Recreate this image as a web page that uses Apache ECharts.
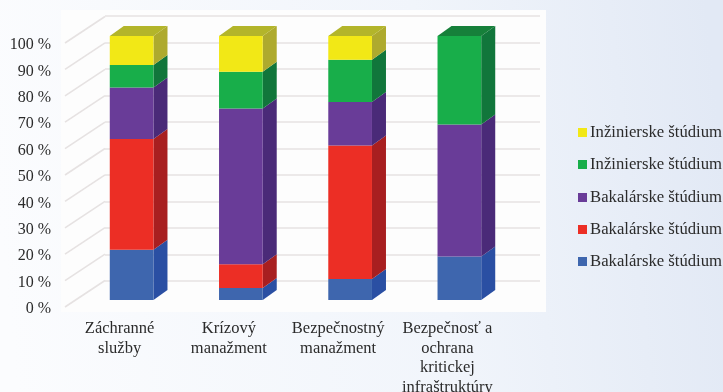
<!DOCTYPE html>
<html>
<head>
<meta charset="utf-8">
<style>html,body{margin:0;padding:0;background:#fff}#chart{width:723px;height:392px}</style>
<script src="https://cdn.jsdelivr.net/npm/echarts@6/dist/echarts.min.js"></script>
</head>
<body>
<div id="chart"></div>
<script>
// Study programme shares per field (percent), bottom segment first.
const categories = ['Záchranné\nslužby', 'Krízový\nmanažment', 'Bezpečnostný\nmanažment', 'Bezpečnosť a\nochrana\nkritickej\ninfraštruktúry'];
const blueValues = [19, 4.5, 8, 16.5];
const redValues = [42, 9, 50.5, 0];
const purpleValues = [19.5, 59, 16.5, 50];
const greenValues = [8.5, 14, 16, 33.5];
const yellowValues = [11, 13.5, 9, 0];
const axisTicks = [0, 10, 20, 30, 40, 50, 60, 70, 80, 90, 100];

const layers = [
  { name: 'Bakalárske štúdium', values: blueValues, front: '#3e66ae', side: '#2a4fa3', top: '#2a4fa3', legendTop: 248 },
  { name: 'Bakalárske štúdium', values: redValues, front: '#ec2e25', side: '#a81f20', top: '#a81f20', legendTop: 216 },
  { name: 'Bakalárske štúdium', values: purpleValues, front: '#693c98', side: '#4a2a78', top: '#4a2a78', legendTop: 184 },
  { name: 'Inžinierske štúdium', values: greenValues, front: '#18ae4a', side: '#11763b', top: '#16803a', legendTop: 151 },
  { name: 'Inžinierske štúdium', values: yellowValues, front: '#f2e816', side: '#aeaa2e', top: '#b3b52a', legendTop: 119 }
];

const serif = '"Liberation Serif", serif';
const ink = '#2b2b2b';
const gridTint = '#e6e2e2';
const BAR_SHIFT_X = 12, BAR_SHIFT_Y = -7, DEPTH_X = 14, DEPTH_Y = -10;
const WALL_X = 40, WALL_Y = -26.5;

// One 3D block: front face, right side, and a lid on the topmost segment.
function blockRenderer(layer) {
  return function (params, api) {
    const lo = api.value(1), hi = api.value(2);
    if (hi <= lo) return null;
    const band = api.size([1, 0])[0];
    const w = band * 0.4;
    const a = api.coord([api.value(0), lo]);
    const b = api.coord([api.value(0), hi]);
    const x0 = a[0] + BAR_SHIFT_X - w / 2, x1 = x0 + w;
    const yLo = a[1] + BAR_SHIFT_Y, yHi = b[1] + BAR_SHIFT_Y;
    const children = [
      { type: 'polygon', shape: { points: [[x1, yLo], [x1 + DEPTH_X, yLo + DEPTH_Y], [x1 + DEPTH_X, yHi + DEPTH_Y], [x1, yHi]] }, style: { fill: layer.side } },
      { type: 'rect', shape: { x: x0, y: yHi, width: w, height: yLo - yHi }, style: { fill: layer.front } }
    ];
    if (hi >= 99.5) {
      children.push({ type: 'polygon', shape: { points: [[x0, yHi], [x1, yHi], [x1 + DEPTH_X, yHi + DEPTH_Y], [x0 + DEPTH_X, yHi + DEPTH_Y]] }, style: { fill: layer.top } });
    }
    return { type: 'group', children };
  };
}

const stackBase = categories.map(() => 0);
const blockSeries = layers.map(layer => {
  const data = layer.values.map((v, i) => {
    const item = [i, stackBase[i], stackBase[i] + v];
    stackBase[i] += v;
    return item;
  });
  return {
    type: 'custom', name: layer.name, xAxisIndex: 0, yAxisIndex: 0, z: 5,
    clip: false, silent: true, itemStyle: { color: layer.front },
    encode: { x: 0, y: [1, 2] }, data, renderItem: blockRenderer(layer)
  };
});

// Side-wall rules running from the labelled front edge back to the rear wall.
const wallSeries = {
  type: 'custom', xAxisIndex: 0, yAxisIndex: 0, z: 2, clip: false, silent: true,
  encode: { y: 0 }, data: axisTicks.map(t => [t]),
  renderItem(params, api) {
    const p = api.coord([0, api.value(0)]);
    const x = params.coordSys.x;
    return {
      type: 'line',
      shape: { x1: x, y1: p[1], x2: x + WALL_X, y2: p[1] + WALL_Y },
      style: { stroke: gridTint, lineWidth: 1.6 }
    };
  }
};

const legends = layers.map(layer => ({
  left: 573, top: layer.legendTop, orient: 'vertical', selectedMode: false,
  itemWidth: 9, itemHeight: 9, itemGap: 0,
  textStyle: { fontFamily: serif, fontSize: 16.7, color: ink, padding: [0, 0, 0, -2] },
  data: [{ name: layer.name, icon: 'rect', itemStyle: { color: layer.front } }]
}));

const chart = echarts.init(document.getElementById('chart'), null, { renderer: 'canvas' });
chart.setOption({
  animation: false,
  backgroundColor: new echarts.graphic.LinearGradient(0, 0.6, 1, 0.4, [
    { offset: 0, color: '#fbfcfe' }, { offset: 0.6, color: '#f1f5fb' }, { offset: 1, color: '#e2e9f5' }
  ]),
  graphic: [{
    type: 'rect', silent: true, z: 0,
    shape: { x: 61, y: 10, width: 485, height: 302 },
    style: { fill: '#fdfdfd' }
  }],
  legend: legends,
  grid: [
    { left: 65, top: 43, width: 437, height: 264, outerBoundsMode: 'none' },
    { left: 105, top: 16, width: 435, height: 265, outerBoundsMode: 'none' }
  ],
  xAxis: [
    {
      type: 'category', gridIndex: 0, data: categories,
      axisLine: { show: false }, axisTick: { show: false }, splitLine: { show: false },
      axisLabel: { interval: 0, margin: 12, fontFamily: serif, fontSize: 16.5, lineHeight: 19.5, color: ink, verticalAlign: 'top' }
    },
    { type: 'category', gridIndex: 1, data: categories, show: false }
  ],
  yAxis: [
    {
      type: 'value', gridIndex: 0, min: 0, max: 100, interval: 10,
      axisLine: { show: false }, axisTick: { show: false }, splitLine: { show: false },
      axisLabel: {
        margin: 14, formatter: '{t|{value} %}',
        rich: { t: { fontFamily: serif, fontSize: 16, color: ink, padding: [4, 0, 0, 0] } }
      }
    },
    {
      type: 'value', gridIndex: 1, min: 0, max: 100, interval: 10,
      axisLine: { show: false }, axisTick: { show: false }, axisLabel: { show: false },
      splitLine: { show: true, lineStyle: { color: gridTint, width: 1.6 } }
    }
  ],
  series: [wallSeries].concat(blockSeries)
});
</script>
</body>
</html>
